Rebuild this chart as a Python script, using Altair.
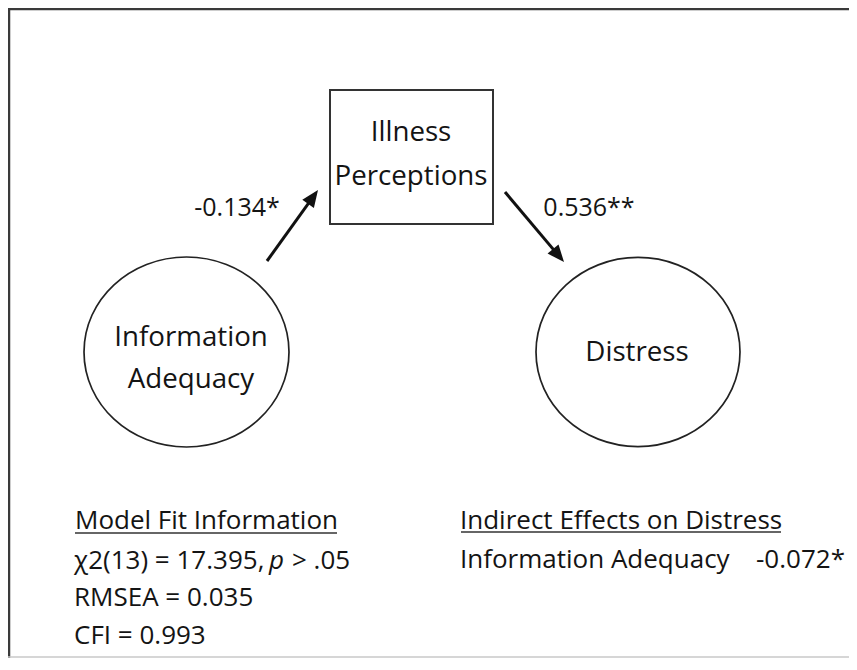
import math
import altair as alt
import pandas as pd

# ---------------- content ----------------
mediator_lines = ["Illness", "Perceptions"]
predictor_lines = ["Information", "Adequacy"]
outcome_lines = ["Distress"]
path_coefficients = ["-0.134*", "0.536**"]
fit_heading = "Model Fit Information"
fit_chi_parts = ["χ2(13) = 17.395,", "p", "> .05"]
fit_other = ["RMSEA = 0.035", "CFI = 0.993"]
indirect_heading = "Indirect Effects on Distress"
indirect_names = ["Information Adequacy"]
indirect_values = ["-0.072*"]

# ---------------- layout (page pixel coordinates) ----------------
W, H = 841, 650
X0, Y0 = 8, 8
FONT = "Open Sans"
INK = "#141414"

xs = alt.Scale(domain=[X0, X0 + W], nice=False, zero=False)
ys = alt.Scale(domain=[Y0, Y0 + H], nice=False, zero=False, reverse=True)
X = lambda f="x": alt.X(f"{f}:Q", scale=xs, axis=None)
Y = lambda f="y": alt.Y(f"{f}:Q", scale=ys, axis=None)

box = dict(x=330, x2=493, y=90, y2=224)
ellipses = [dict(cx=186.5, cy=352, rx=102.5), dict(cx=638, cy=352, rx=102)]
RY_RATIO = 0.927
arrows = [dict(x=267, y=261, tx=318, ty=190), dict(x=505, y=192, tx=564, ty=262)]
HEAD_LEN = 17

# ---------------- text tables ----------------
node_rows = [
    (mediator_lines[0], 411, 133), (mediator_lines[1], 411, 177),
    (predictor_lines[0], 191, 338), (predictor_lines[1], 191, 380),
    (outcome_lines[0], 637, 353),
]
node_df = pd.DataFrame(node_rows, columns=["t", "x", "y"])
coef_df = pd.DataFrame({"t": path_coefficients, "x": [237, 589], "y": [208, 208]})
left_rows = [
    (fit_heading, 75, 521), (fit_chi_parts[0], 74, 561), (fit_chi_parts[2], 292, 561),
    (fit_other[0], 74, 598), (fit_other[1], 74, 636),
    (indirect_heading, 460, 521), (indirect_names[0], 460, 560),
    (indirect_values[0], 756, 560),
]
left_df = pd.DataFrame(left_rows, columns=["t", "x", "y"])
ital_df = pd.DataFrame({"t": [fit_chi_parts[1]], "x": [269], "y": [561]})

def text_layer(df, size, align="left", style="normal"):
    return alt.Chart(df).mark_text(
        font=FONT, fontSize=size, align=align, baseline="middle", color=INK, fontStyle=style
    ).encode(x=X(), y=Y(), text="t:N")

# ---------------- shapes ----------------
K = 0.5523
r = RY_RATIO
ELLIPSE = (f"M1,0 C1,{r*K:.4f} {K},{r} 0,{r} C{-K},{r} -1,{r*K:.4f} -1,0 "
           f"C-1,{-r*K:.4f} {-K},{-r} 0,{-r} C{K},{-r} 1,{-r*K:.4f} 1,0 Z")
ell_df = pd.DataFrame([dict(x=e["cx"], y=e["cy"], s=(2 * e["rx"]) ** 2) for e in ellipses])
ell_layer = alt.Chart(ell_df).mark_point(
    shape=ELLIPSE, filled=False, stroke="#222", strokeWidth=1.7, opacity=1
).encode(x=X(), y=Y(), size=alt.Size("s:Q", scale=None))

HEAD = "M0,0 L-0.42,1 L0.42,1 Z"
rule_rows, head_rows = [], []
for a in arrows:
    dx, dy = a["tx"] - a["x"], a["ty"] - a["y"]
    L = math.hypot(dx, dy)
    ux, uy = dx / L, dy / L
    rule_rows.append(dict(x=a["x"], y=a["y"], x2=a["tx"] - ux * HEAD_LEN * 0.8, y2=a["ty"] - uy * HEAD_LEN * 0.8))
    head_rows.append(dict(x=a["tx"], y=a["ty"], ang=math.degrees(math.atan2(dx, -dy)) % 360))
arrow_lines = alt.Chart(pd.DataFrame(rule_rows)).mark_rule(color="#111", strokeWidth=3).encode(
    x=X(), y=Y(), x2="x2:Q", y2="y2:Q")
heads = alt.Chart(pd.DataFrame(head_rows)).mark_point(
    shape=HEAD, filled=True, color="#111", opacity=1, size=(2 * HEAD_LEN) ** 2
).encode(x=X(), y=Y(), angle=alt.Angle("ang:Q", scale=None))

box_layer = alt.Chart(pd.DataFrame([box])).mark_rect(
    fill="white", stroke="#333", strokeWidth=2
).encode(x=X(), x2="x2:Q", y=Y(), y2="y2:Q")

underlines = alt.Chart(pd.DataFrame([
    dict(x=75, x2=337, y=533, y2=533), dict(x=461, x2=781, y=532, y2=532)
])).mark_rule(color="#333", strokeWidth=1.5).encode(x=X(), x2="x2:Q", y=Y(), y2="y2:Q")

frame_dark = alt.Chart(pd.DataFrame([
    dict(x=9, x2=9, y=8, y2=660), dict(x=8, x2=849, y=9, y2=9)
])).mark_rule(color="#3a3a3a", strokeWidth=2.5).encode(x=X(), x2="x2:Q", y=Y(), y2="y2:Q")
frame_light = alt.Chart(pd.DataFrame([
    dict(x=8, x2=849, y=657, y2=657)
])).mark_rule(color="#c8c8c8", strokeWidth=1.5).encode(x=X(), x2="x2:Q", y=Y(), y2="y2:Q")

chart = alt.layer(
    frame_dark, frame_light, box_layer, ell_layer, arrow_lines, heads, underlines,
    text_layer(node_df, 27.7, "center"),
    text_layer(coef_df, 25, "center"),
    text_layer(left_df, 26, "left"),
    text_layer(ital_df, 26, "left", "italic"),
).properties(
    width=W, height=H, padding=0, autosize=alt.AutoSizeParams(type="none"), background="white"
).configure_view(stroke=None)

chart.save("out.html", embed_options={"renderer": "svg", "actions": False})
